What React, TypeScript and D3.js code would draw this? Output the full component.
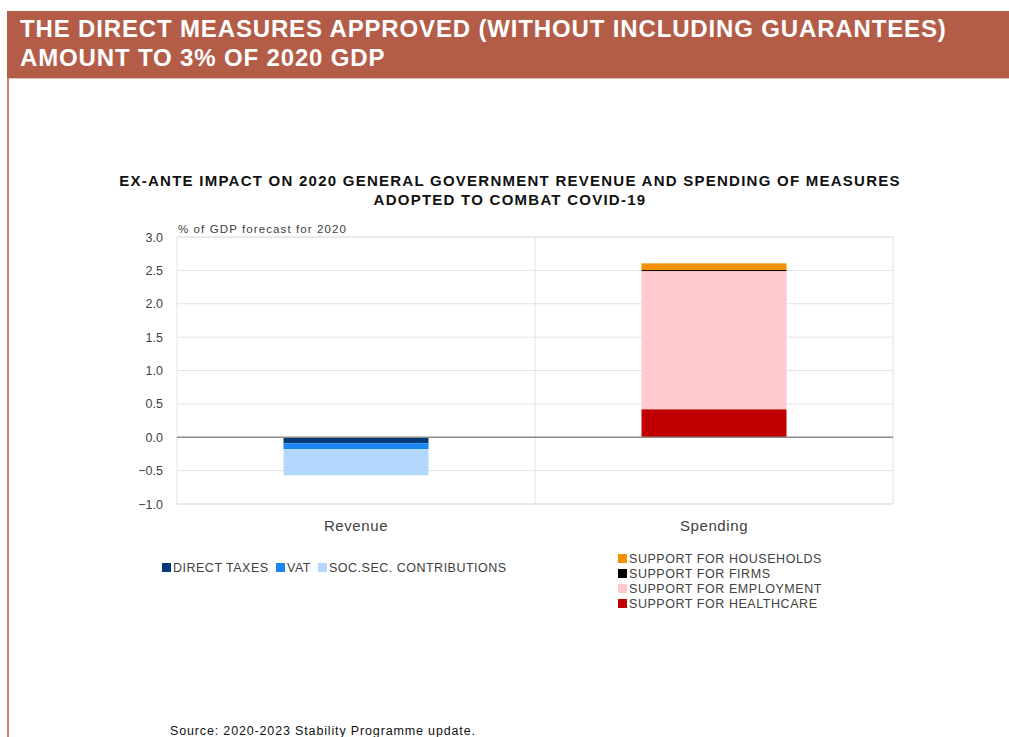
import React from "react";
import * as d3 from "d3";

const categories = ["Revenue", "Spending"];

const revenueSeries = ["DIRECT TAXES", "VAT", "SOC.SEC. CONTRIBUTIONS"];
const revenueValues = [-0.09, -0.09, -0.39];
const revenueColors = ["#023a78", "#1a86f2", "#b4d8fd"];

const spendingSeries = [
  "SUPPORT FOR HEALTHCARE",
  "SUPPORT FOR EMPLOYMENT",
  "SUPPORT FOR FIRMS",
  "SUPPORT FOR HOUSEHOLDS",
];
const spendingValues = [0.42, 2.07, 0.015, 0.1];
const spendingColors = ["#c00000", "#ffc8ce", "#000000", "#f39200"];

const yTicks = [-1.0, -0.5, 0.0, 0.5, 1.0, 1.5, 2.0, 2.5, 3.0];

const headerLines = [
  "THE DIRECT MEASURES APPROVED (WITHOUT INCLUDING GUARANTEES)",
  "AMOUNT TO 3% OF 2020 GDP",
];
const titleLines = [
  "EX-ANTE IMPACT ON 2020 GENERAL GOVERNMENT REVENUE AND SPENDING OF MEASURES",
  "ADOPTED TO COMBAT COVID-19",
];
const yAxisLabel = "% of GDP forecast for 2020";
const sourceText = "Source: 2020-2023 Stability Programme update.";

function stack(values: number[]) {
  let pos = 0;
  let neg = 0;
  return values.map((v) => {
    if (v >= 0) {
      const r = [pos, pos + v];
      pos += v;
      return r;
    }
    const r = [neg + v, neg];
    neg += v;
    return r;
  });
}

export default function App() {
  const W = 1009;
  const H = 737;
  const plot = { left: 177, right: 893, top: 237, bottom: 504 };
  const x = d3
    .scaleBand<string>()
    .domain(categories)
    .range([plot.left, plot.right])
    .paddingInner(0)
    .paddingOuter(0);
  const y = d3.scaleLinear().domain([-1, 3]).range([plot.bottom, plot.top]);
  const barW = x.bandwidth() * 0.405;

  const groups = [
    { cat: categories[0], values: revenueValues, colors: revenueColors },
    { cat: categories[1], values: spendingValues, colors: spendingColors },
  ];

  const font = "'Liberation Sans', Arial, Helvetica, sans-serif";
  const textColor = "#404040";

  const legend2Order = [3, 2, 1, 0];
  const legend1X = [162, 276, 318];

  return (
    <svg
      width={W}
      height={H}
      style={{ position: "absolute", left: 0, top: 0, background: "#fff" }}
      fontFamily={font}
    >
      {/* Header */}
      <rect x={7} y={11} width={W - 7} height={67} fill="#b35d48" />
      <rect x={7} y={78} width={W - 7} height={1} fill="#e9c2b7" />
      <rect x={7} y={78} width={2} height={H - 78} fill="#c97f6c" />
      {headerLines.map((t, i) => (
        <text
          key={i}
          x={20}
          y={37 + i * 28.5}
          fill="#ffffff"
          fontSize={24}
          fontWeight="bold"
          letterSpacing={0.85}
        >
          {t}
        </text>
      ))}

      {/* Chart title */}
      {titleLines.map((t, i) => (
        <text
          key={i}
          x={510}
          y={186 + i * 19}
          textAnchor="middle"
          fontSize={15}
          fontWeight="bold"
          letterSpacing={1.25}
          fill="#111"
        >
          {t}
        </text>
      ))}

      {/* Plot box & gridlines */}
      <rect
        x={plot.left}
        y={plot.top}
        width={plot.right - plot.left}
        height={plot.bottom - plot.top}
        fill="none"
        stroke="#e3e3e3"
        strokeWidth={1}
      />
      {yTicks.map((t) => (
        <line
          key={t}
          x1={plot.left}
          x2={plot.right}
          y1={y(t)}
          y2={y(t)}
          stroke="#e3e3e3"
          strokeWidth={1}
        />
      ))}
      {categories.slice(1).map((c) => (
        <line
          key={c}
          x1={x(c)!}
          x2={x(c)!}
          y1={plot.top}
          y2={plot.bottom}
          stroke="#e3e3e3"
          strokeWidth={1}
        />
      ))}

      {/* Bars */}
      {groups.map((g) => {
        const st = stack(g.values);
        const cx = x(g.cat)! + x.bandwidth() / 2;
        return (
          <g key={g.cat}>
            {st.map(([a, b], i) => (
              <rect
                key={i}
                x={cx - barW / 2}
                y={y(b)}
                width={barW}
                height={Math.max(y(a) - y(b), 1)}
                fill={g.colors[i]}
              />
            ))}
          </g>
        );
      })}

      {/* Zero line */}
      <line
        x1={plot.left}
        x2={plot.right}
        y1={y(0)}
        y2={y(0)}
        stroke="#8c8c8c"
        strokeWidth={1.5}
      />

      {/* Y ticks */}
      {yTicks.map((t) => (
        <text
          key={t}
          x={163}
          y={y(t) + 4.5}
          textAnchor="end"
          fontSize={12.5}
          fill={textColor}
        >
          {d3.format(".1f")(t)}
        </text>
      ))}
      <text x={178} y={233} fontSize={11.5} letterSpacing={1.1} fill={textColor}>
        {yAxisLabel}
      </text>

      {/* Category labels */}
      {categories.map((c) => (
        <text
          key={c}
          x={x(c)! + x.bandwidth() / 2}
          y={531}
          textAnchor="middle"
          fontSize={15}
          letterSpacing={0.6}
          fill={textColor}
        >
          {c}
        </text>
      ))}

      {/* Legend 1 */}
      {revenueSeries.map((s, i) => (
        <g key={s}>
          <rect x={legend1X[i]} y={563} width={9} height={9} fill={revenueColors[i]} />
          <text
            x={legend1X[i] + 11}
            y={572}
            fontSize={12.5}
            letterSpacing={0.5}
            fill={textColor}
          >
            {s}
          </text>
        </g>
      ))}

      {/* Legend 2 */}
      {legend2Order.map((idx, row) => (
        <g key={idx}>
          <rect
            x={618}
            y={554 + row * 15}
            width={9}
            height={9}
            fill={spendingColors[idx]}
          />
          <text
            x={629}
            y={563 + row * 15}
            fontSize={12.5}
            letterSpacing={0.55}
            fill={textColor}
          >
            {spendingSeries[idx]}
          </text>
        </g>
      ))}

      {/* Source */}
      <text x={170} y={735} fontSize={12.5} letterSpacing={0.85} fill="#111">
        {sourceText}
      </text>
    </svg>
  );
}
